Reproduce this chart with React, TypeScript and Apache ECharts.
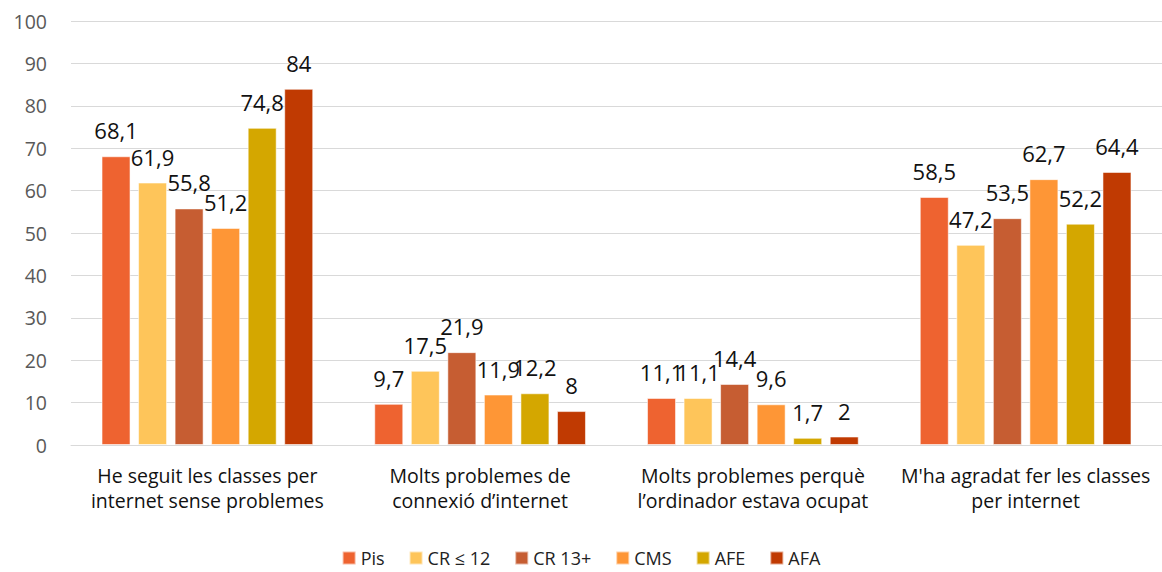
import React, { useEffect, useRef } from "react";
import * as echarts from "echarts";

const categories = [
  "He seguit les classes per\ninternet sense problemes",
  "Molts problemes de\nconnexió d’internet",
  "Molts problemes perquè\nl’ordinador estava ocupat",
  "M'ha agradat fer les classes\nper internet",
];
const seriesNames = ["Pis", "CR ≤ 12", "CR 13+", "CMS", "AFE", "AFA"];
const pis = [68.1, 9.7, 11.1, 58.5];
const cr12 = [61.9, 17.5, 11.1, 47.2];
const cr13 = [55.8, 21.9, 14.4, 53.5];
const cms = [51.2, 11.9, 9.6, 62.7];
const afe = [74.8, 12.2, 1.7, 52.2];
const afa = [84, 8, 2, 64.4];
const seriesValues = [pis, cr12, cr13, cms, afe, afa];
const colors = ["#EE6330", "#FEC55A", "#C65D32", "#FE9636", "#D4A700", "#C03A02"];
const yTicks = { min: 0, max: 100, interval: 10 };

const FONT = "'Open Sans', 'Noto Sans', sans-serif";

export default function App() {
  const ref = useRef<HTMLDivElement>(null);
  useEffect(() => {
    if (!ref.current) return;
    const chart = echarts.init(ref.current, null, { renderer: "svg" });
    chart.setOption({
      animation: false,
      color: colors,
      textStyle: { fontFamily: FONT },
      grid: { left: 71, right: 0, top: 21, bottom: 127, containLabel: false },
      legend: {
        data: seriesNames,
        top: 544,
        left: "center",
        padding: [5, 5, 0, 5],
        itemWidth: 13,
        itemHeight: 13,
        itemGap: 24,
        icon: "rect",
        textStyle: { fontSize: 18, lineHeight: 18, color: "#222", fontFamily: FONT },
      },
      xAxis: {
        type: "category",
        data: categories,
        axisTick: { show: false },
        axisLine: { lineStyle: { color: "#d9d9d9", width: 1 } },
        axisLabel: {
          fontSize: 19.5,
          lineHeight: 25,
          color: "#111",
          margin: 18,
          fontFamily: FONT,
          interval: 0,
        },
      },
      yAxis: {
        type: "value",
        min: yTicks.min,
        max: yTicks.max,
        interval: yTicks.interval,
        axisLine: { show: false },
        axisTick: { show: false },
        splitLine: { lineStyle: { color: "#d9d9d9", width: 1 } },
        axisLabel: { fontSize: 19.5, color: "#595959", margin: 24, fontFamily: FONT },
      },
      series: seriesNames.map((name, i) => ({
        name,
        type: "bar",
        data: seriesValues[i],
        barWidth: 29,
        barGap: "26%",
        itemStyle: { borderColor: "rgba(255,255,255,0.55)", borderWidth: 1 },
        label: {
          show: true,
          position: "top",
          distance: 15,
          fontSize: 22,
          color: "#111",
          fontFamily: FONT,
          formatter: (p: any) => String(p.value).replace(".", ","),
        },
      })),
    });
    return () => chart.dispose();
  }, []);
  return (
    <div
      ref={ref}
      style={{ position: "absolute", left: 0, top: 0, width: 1162, height: 572, background: "#fff" }}
    />
  );
}
